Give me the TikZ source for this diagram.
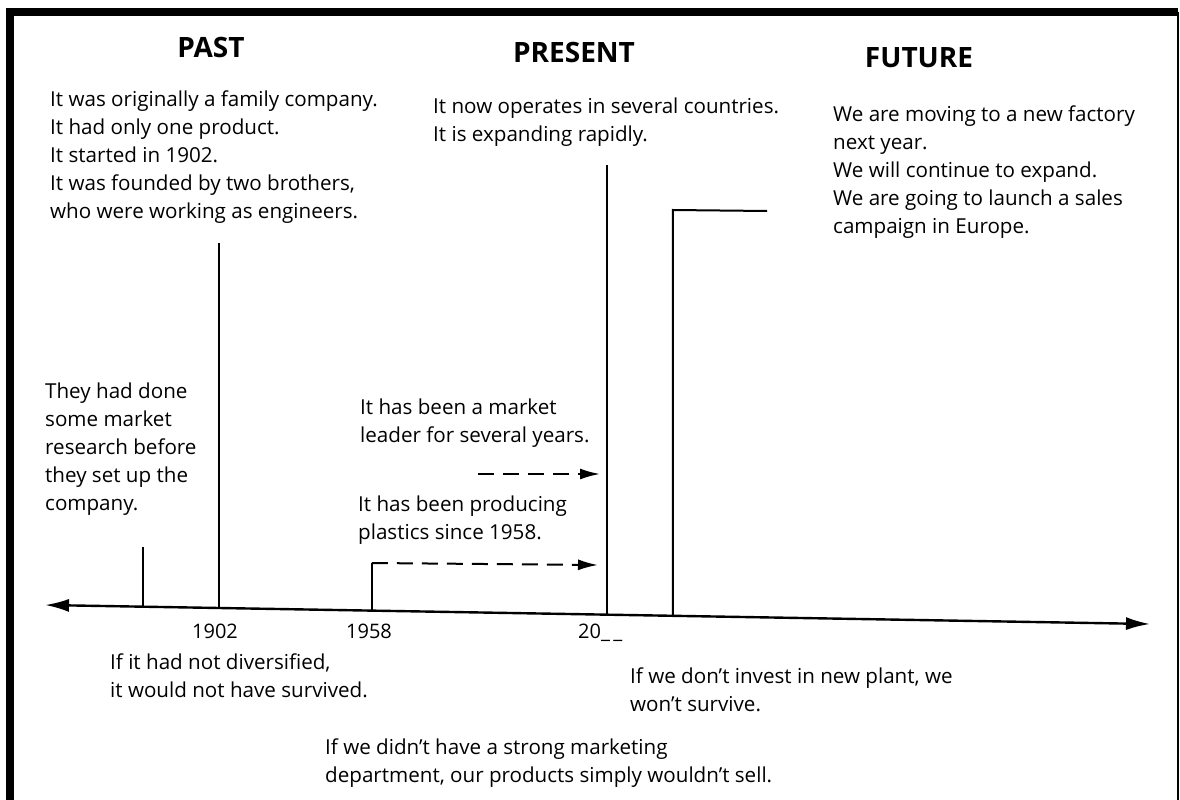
\documentclass[tikz,border=0pt]{standalone}
\usepackage{fontspec}
\setmainfont{Open Sans}
\usetikzlibrary{arrows.meta, positioning, calc}

\begin{document}
\begin{tikzpicture}[x=1pt, y=-1pt,
  txt/.style={anchor=north west, align=left, inner sep=0pt,
    font=\fontsize{20.6}{28}\selectfont},
  head/.style={font=\fontsize{28}{32}\selectfont\bfseries, inner sep=0pt},
  yr/.style={font=\fontsize{20}{22}\selectfont, inner sep=0pt},
  tick/.style={line width=2pt},
  lead/.style={line width=2pt, dash pattern=on 16pt off 9pt, -{Latex[length=20pt,width=11pt]}}]
  \useasboundingbox (0,0) rectangle (1180,800);
  % frame
  \draw[line width=8pt] (10,800) -- (10,12) -- (1178,12);
  \draw[line width=2pt] (1178,12) -- (1178,800);

  % headings
  \node[head] (past) at (211,47) {PAST};
  \node[head] (present) at (574,52) {PRESENT};
  \node[head] (future) at (919,58) {FUTURE};

  % texts
  \node[txt] (pastTxt) at (50,91) {It was originally a family company.\\It had only one product.\\It started in 1902.\\It was founded by two brothers,\\who were working as engineers.};
  \node[txt] (presTxt) at (433,98) {It now operates in several countries.\\It is expanding rapidly.};
  \node[txt] (futTxt) at (833,106) {We are moving to a new factory\\next year.\\We will continue to expand.\\We are going to launch a sales\\campaign in Europe.};
  \node[txt] (researchTxt) at (45,383) {They had done\\some market\\research before\\they set up the\\company.};
  \node[txt] (leaderTxt) at (360,399) {It has been a market\\leader for several years.};
  \node[txt] (plasticsTxt) at (358,496) {It has been producing\\plastics since 1958.};
  \node[txt] (diversTxt) at (110,654) {If it had not diversified,\\it would not have survived.};
  \node[txt] (investTxt) at (630,668) {If we don't invest in new plant, we\\won't survive.};
  \node[txt] (marketTxt) at (325,739) {If we didn't have a strong marketing\\department, our products simply wouldn't sell.};

  % time line
  \coordinate (axL) at (45,605);
  \coordinate (axR) at (1150,624);
  \draw[line width=2.4pt, {Latex[length=24pt,width=13pt]}-{Latex[length=24pt,width=13pt]}] (axL) -- (axR);
  \coordinate (b0) at ($(axL)!0.0887!(axR)$);
  \coordinate (b1902) at ($(axL)!0.1575!(axR)$);
  \coordinate (b1958) at ($(axL)!0.2959!(axR)$);
  \coordinate (bPres) at ($(axL)!0.5086!(axR)$);
  \coordinate (bFut) at ($(axL)!0.5683!(axR)$);

  \coordinate (t0) at (143,547);
  \coordinate (t1902) at (219,243);
  \coordinate (t1958) at (372,563);
  \coordinate (tPres) at (607,165);
  \coordinate (tFut) at (673,210);
  \coordinate (futEnd) at (767,211);

  \draw[tick] (b0) -- (b0 |- t0);
  \draw[tick] (b1902) -- (b1902 |- t1902);
  \draw[tick] (b1958) -- (b1958 |- t1958);
  \draw[tick] (bPres) -- (bPres |- tPres);
  \draw[tick] (bFut) -- (bFut |- tFut) -- (futEnd);

  \coordinate (plEnd) at (598,565);
  \coordinate (ldStart) at (478,474);
  \coordinate (ldEnd) at (600,474);
  \draw[lead] (b1958 |- t1958) -- (plEnd);
  \draw[lead] (ldStart) -- (ldEnd);

  % years
  \node[yr] (y1902) at (215,631) {1902};
  \node[yr] (y1958) at (369,631) {1958};
  \node[yr, anchor=west] (y20) at (578,633) {20\_\,\_};
\end{tikzpicture}
\end{document}
